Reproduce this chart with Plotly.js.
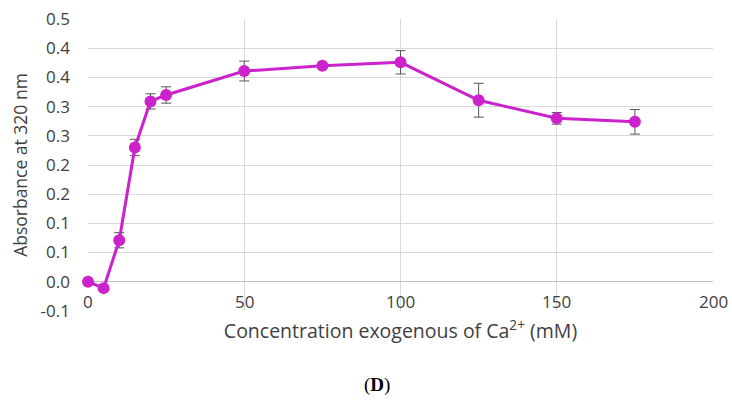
<!DOCTYPE html>
<html>
<head>
<meta charset="utf-8">
<script src="https://cdn.plot.ly/plotly-3.0.1.min.js"></script>
<style>html,body{margin:0;padding:0;background:#fff}#chart{width:732px;height:403px}</style>
</head>
<body>
<div id="chart"></div>
<script>
const concentration = [0, 5, 10, 15, 20, 25, 50, 75, 100, 125, 150, 175];
const absorbance = [0.000, -0.011, 0.071, 0.230, 0.309, 0.320, 0.361, 0.370, 0.376, 0.311, 0.280, 0.274];
const absorbanceError = [0, 0, 0.013, 0.014, 0.013, 0.014, 0.017, 0, 0.020, 0.029, 0.010, 0.021];
const yTickValues = [-0.05, 0, 0.05, 0.1, 0.15, 0.2, 0.25, 0.3, 0.35, 0.4, 0.45];
const yTickLabels = ['-0.1', '0.0', '0.1', '0.1', '0.2', '0.2', '0.3', '0.3', '0.4', '0.4', '0.5'];
const xTickValues = [0, 50, 100, 150, 200];
const xTickLabels = ['0', '50', '100', '150', '200'];

const font = 'Open Sans, sans-serif';
const textColor = '#404040';
const trace = {
  x: concentration,
  y: absorbance,
  type: 'scatter',
  mode: 'lines+markers',
  cliponaxis: false,
  line: {color: '#cc22cc', width: 3},
  marker: {color: '#cc22cc', size: 12},
  error_y: {type: 'data', array: absorbanceError, visible: true, color: '#555555', thickness: 1, width: 5},
  hoverinfo: 'x+y'
};
const xLabelAnnotations = xTickValues.map((v, i) => ({
  text: xTickLabels[i], xref: 'x', yref: 'y', x: v, y: -0.05,
  xanchor: 'center', yanchor: 'bottom', showarrow: false, yshift: -4,
  font: {family: font, size: 17, color: textColor}
}));
const layout = {
  width: 732, height: 403,
  margin: {l: 88, r: 19, t: 19, b: 92},
  paper_bgcolor: '#ffffff', plot_bgcolor: '#ffffff',
  showlegend: false,
  font: {family: font, size: 17, color: textColor},
  xaxis: {
    range: [0, 200], tickvals: xTickValues, ticktext: xTickLabels,
    showgrid: true, gridcolor: '#d9d9d9', gridwidth: 1,
    zeroline: false, showline: false, ticks: '', showticklabels: false,
    title: {text: 'Concentration exogenous of Ca<sup>2+</sup> (mM)', font: {family: font, size: 19.5, color: textColor}, standoff: 13}
  },
  yaxis: {
    range: [-0.0502, 0.4502], tickvals: yTickValues, ticktext: yTickLabels,
    showgrid: true, gridcolor: '#d9d9d9', gridwidth: 1,
    zeroline: true, zerolinecolor: '#bfbfbf', zerolinewidth: 1,
    showline: false, ticks: '', ticklabelstandoff: 17,
    tickfont: {family: font, size: 17, color: textColor},
    title: {text: 'Absorbance at 320 nm', font: {family: font, size: 17.5, color: textColor}, standoff: 8}
  },
  annotations: xLabelAnnotations.concat([{
    text: '(<b>D</b>)', xref: 'paper', yref: 'paper', x: 0.4625, y: -0.255,
    xanchor: 'center', yanchor: 'middle', showarrow: false,
    font: {family: 'Liberation Serif, serif', size: 19, color: '#000000'}
  }])
};
Plotly.newPlot('chart', [trace], layout, {displayModeBar: false, staticPlot: true});
</script>
</body>
</html>
